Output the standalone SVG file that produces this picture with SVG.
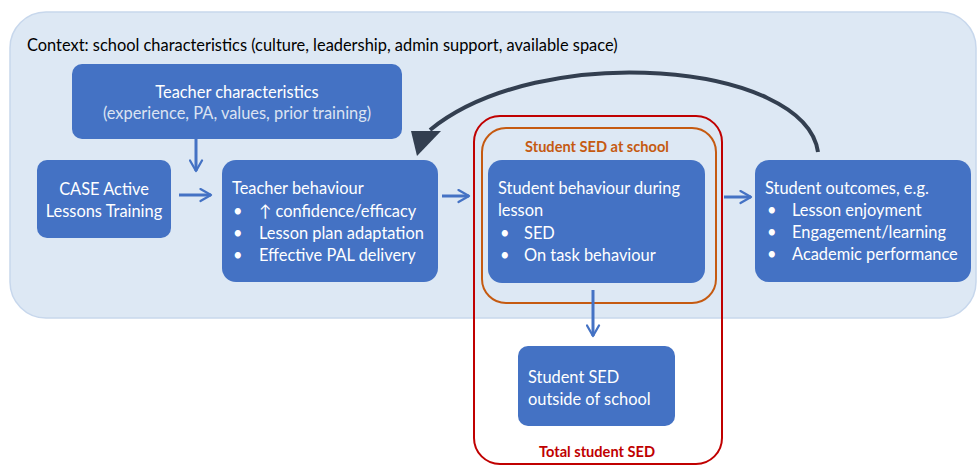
<svg xmlns="http://www.w3.org/2000/svg" width="979" height="465" viewBox="0 0 979 465">
<style>
text{font-family:Lato,"Open Sans","Liberation Sans",sans-serif;font-size:16.4px}
.box{fill:#4472c4}
.w{fill:#ffffff}
.c{text-anchor:middle}
.lbl{font-weight:bold;font-size:14.6px}
.arr{stroke:#4472c4;stroke-width:3;fill:none;marker-end:url(#chev)}
</style>
<defs>
<marker id="chev" viewBox="0 0 10 10" refX="8" refY="5" markerWidth="5" markerHeight="5" orient="auto" markerUnits="strokeWidth">
<path d="M1,1 L8,5 L1,9" fill="none" stroke="#4472c4" stroke-width="1.5" stroke-linecap="round" stroke-linejoin="round"/>
</marker>
</defs>
<rect width="979" height="465" fill="#ffffff"/>
<g id="context">
<rect x="10" y="12" width="966" height="306" rx="36" fill="#dde8f4" stroke="#c7d7ec" stroke-width="1.5"/>
<text x="27" y="51" fill="#000">Context: school characteristics (culture, leadership, admin support, available space)</text>
</g>
<g id="total-sed">
<rect x="474" y="116" width="248" height="348" rx="26" fill="none" stroke="#c00000" stroke-width="2"/>
<text x="597" y="457" class="c lbl" fill="#c00000">Total student SED</text>
</g>
<g id="sed-school">
<rect x="482" y="128" width="234" height="175" rx="24" fill="none" stroke="#c55a11" stroke-width="2"/>
<text x="597" y="152" class="c lbl" fill="#c55a11">Student SED at school</text>
</g>
<g id="teacher-char">
<rect class="box" x="72" y="64" width="330" height="75" rx="10"/>
<text x="237" y="98" class="c w">Teacher characteristics</text>
<text x="237" y="119" class="c" fill="#dbe3f2">(experience, PA, values, prior training)</text>
</g>
<g id="case">
<rect class="box" x="37" y="160" width="134" height="78" rx="10"/>
<text x="104" y="195" class="c w">CASE Active</text>
<text x="104" y="217" class="c w">Lessons Training</text>
</g>
<g id="teacher-beh">
<rect class="box" x="222" y="160" width="216" height="122" rx="14"/>
<text x="232" y="194" class="w">Teacher behaviour</text>
<text x="233" y="217" class="w">•</text><text x="259" y="217" class="w">↑ confidence/efficacy</text>
<text x="233" y="239" class="w">•</text><text x="259" y="239" class="w">Lesson plan adaptation</text>
<text x="233" y="261" class="w">•</text><text x="259" y="261" class="w">Effective PAL delivery</text>
</g>
<g id="student-beh">
<rect class="box" x="488" y="160" width="217" height="123" rx="14"/>
<text x="498" y="194" class="w">Student behaviour during</text>
<text x="498" y="216" class="w">lesson</text>
<text x="500" y="239" class="w">•</text><text x="524" y="239" class="w">SED</text>
<text x="500" y="261" class="w">•</text><text x="524" y="261" class="w">On task behaviour</text>
</g>
<g id="outcomes">
<rect class="box" x="755" y="160" width="216" height="122" rx="14"/>
<text x="765" y="194" class="w">Student outcomes, e.g.</text>
<text x="767" y="216" class="w">•</text><text x="792" y="216" class="w">Lesson enjoyment</text>
<text x="767" y="238" class="w">•</text><text x="792" y="238" class="w">Engagement/learning</text>
<text x="767" y="260" class="w">•</text><text x="792" y="260" class="w">Academic performance</text>
</g>
<g id="sed-outside">
<rect class="box" x="518" y="346" width="157" height="80" rx="10"/>
<text x="528" y="383" class="w">Student SED</text>
<text x="528" y="405" class="w">outside of school</text>
</g>
<g id="connectors">
<path class="arr" d="M196,139 V171"/>
<path class="arr" d="M179,195 H211"/>
<path class="arr" d="M442,196 H469"/>
<path class="arr" d="M724,197 H751"/>
<path class="arr" d="M593,290 V336"/>
<path d="M818,152 C805,62 540,40 430,130" fill="none" stroke="#333f50" stroke-width="4"/>
<polygon points="411,131 441,131 417,156" fill="#333f50"/>
</g>
</svg>
